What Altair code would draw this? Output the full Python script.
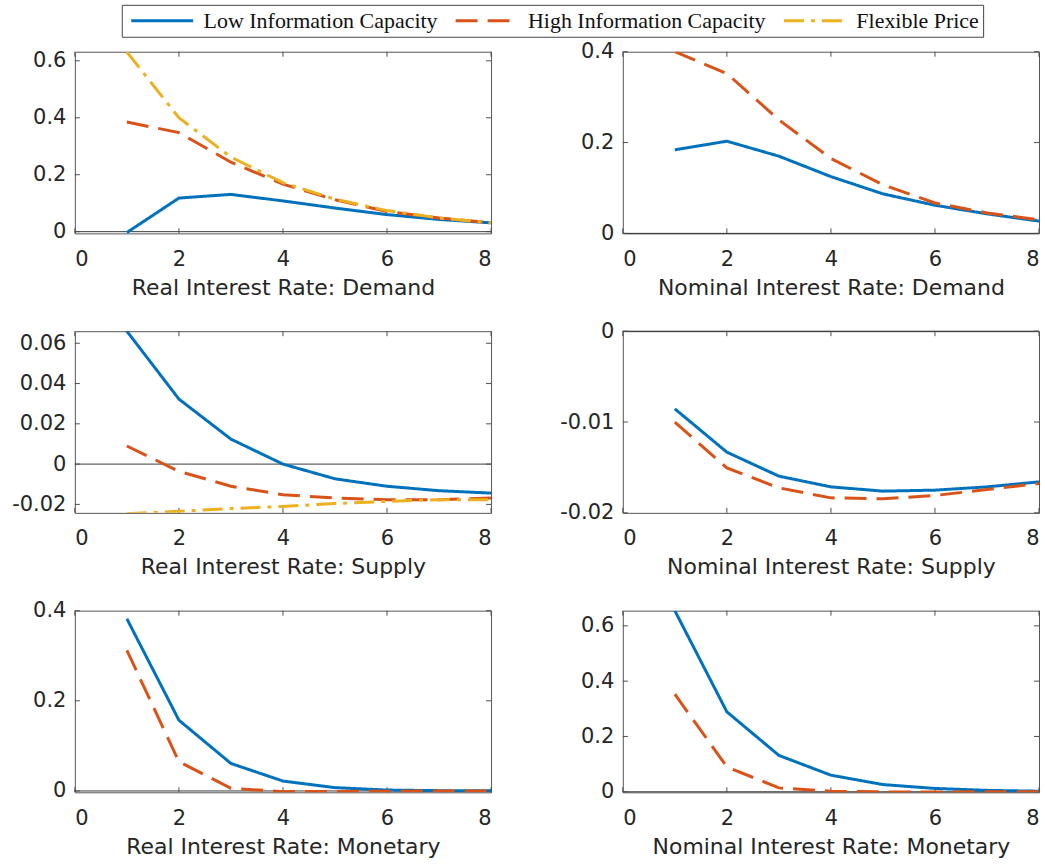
import altair as alt
import pandas as pd

periods = [1, 2, 3, 4, 5, 6, 7, 8]
series_names = ["Low Information Capacity", "High Information Capacity", "Flexible Price"]
series_colors = ["#0072BD", "#D95319", "#EDB120"]
series_dashes = [[1, 0], [22, 10], [20, 7, 4, 7]]
x_ticks = [0, 2, 4, 6, 8]

# Real interest rate: demand
real_demand_low = [-0.003, 0.118, 0.131, 0.108, 0.083, 0.060, 0.043, 0.031]
real_demand_high = [0.385, 0.348, 0.244, 0.167, 0.112, 0.071, 0.048, 0.031]
real_demand_flex = [0.631, 0.400, 0.262, 0.172, 0.114, 0.074, 0.048, 0.031]
# Nominal interest rate: demand
nom_demand_low = [0.184, 0.203, 0.170, 0.125, 0.087, 0.062, 0.043, 0.027]
nom_demand_high = [0.400, 0.352, 0.250, 0.165, 0.107, 0.067, 0.045, 0.030]
# Real interest rate: supply
real_supply_low = [0.066, 0.0323, 0.0124, 0.0, -0.0073, -0.011, -0.0132, -0.0144]
real_supply_high = [0.009, -0.0036, -0.011, -0.0152, -0.0168, -0.0177, -0.0177, -0.0168]
real_supply_flex = [-0.0247, -0.0234, -0.0221, -0.021, -0.0196, -0.0185, -0.0177, -0.0177]
# Nominal interest rate: supply
nom_supply_low = [-0.00855, -0.01332, -0.01596, -0.01714, -0.01761, -0.0175, -0.01714, -0.01659]
nom_supply_high = [-0.01002, -0.01505, -0.01725, -0.01835, -0.01846, -0.01809, -0.01743, -0.01677]
# Real interest rate: monetary
real_mon_low = [0.382, 0.157, 0.061, 0.022, 0.0074, 0.002, 0.0007, 0.0002]
real_mon_high = [0.312, 0.065, 0.006, -0.0015, -0.0012, -0.0005, -0.0002, 0.0]
# Nominal interest rate: monetary
nom_mon_low = [0.655, 0.289, 0.1315, 0.060, 0.026, 0.012, 0.005, 0.002]
nom_mon_high = [0.353, 0.090, 0.014, 0.002, -0.0005, -0.0005, -0.0003, 0.0]

W, H = 417, 182
TICK_COLOR = "#4d4d4d"

legend = alt.Legend(
    title=None, orient="none", legendX=47, legendY=-47, direction="horizontal",
    symbolType="stroke", symbolSize=3844, symbolStrokeWidth=3, clipHeight=24,
    symbolOffset=4,
    labelFont="Liberation Serif", labelFontSize=22, labelColor="#111111",
    labelOffset=9, columnPadding=12, padding=4, strokeColor="#444444",
    fillColor="white", labelLimit=500,
)


def panel(title, ydomain, yticks, series):
    rows = []
    for name, vals in series:
        for p, v in zip(periods, vals):
            rows.append({"t": p, "v": v, "s": name})
    df = pd.DataFrame(rows)

    x_enc = alt.X(
        "t:Q",
        scale=alt.Scale(domain=[0, 8], nice=False, zero=False),
        axis=alt.Axis(values=x_ticks, title=title, grid=False, domain=False,
                      ticks=False, tickSize=0, labelPadding=15, titlePadding=8),
    )
    y_enc = alt.Y(
        "v:Q",
        scale=alt.Scale(domain=ydomain, nice=False, zero=False),
        axis=alt.Axis(values=yticks, title=None, grid=False, domain=False,
                      ticks=False, tickSize=0, labelPadding=9,
                      labelExpr="datum.value < 0 ? '-' + format(-datum.value, '~g') : format(datum.value, '~g')"),
    )

    zero = alt.Chart(pd.DataFrame({"v": [0.0]})).mark_rule(
        color="#262626", strokeWidth=0.9).encode(y=y_enc)
    xt = pd.DataFrame({"t": x_ticks})
    yt = pd.DataFrame({"v": yticks})
    xt_bot = alt.Chart(xt).mark_rule(color=TICK_COLOR, strokeWidth=1).encode(
        x=x_enc, y=alt.value(H), y2=alt.value(H - 5))
    xt_top = alt.Chart(xt).mark_rule(color=TICK_COLOR, strokeWidth=1).encode(
        x=x_enc, y=alt.value(0), y2=alt.value(5))
    yt_left = alt.Chart(yt).mark_rule(color=TICK_COLOR, strokeWidth=1).encode(
        y=y_enc, x=alt.value(0), x2=alt.value(5))
    yt_right = alt.Chart(yt).mark_rule(color=TICK_COLOR, strokeWidth=1).encode(
        y=y_enc, x=alt.value(W - 5), x2=alt.value(W))

    lines = alt.Chart(df).mark_line(strokeWidth=3, clip=True).encode(
        x=x_enc,
        y=y_enc,
        color=alt.Color("s:N", scale=alt.Scale(domain=series_names, range=series_colors),
                        legend=legend),
        strokeDash=alt.StrokeDash("s:N", scale=alt.Scale(domain=series_names, range=series_dashes),
                                  legend=legend),
    )
    return alt.layer(zero, xt_bot, xt_top, yt_left, yt_right, lines).properties(width=W, height=H)


p1 = panel("Real Interest Rate: Demand", [-0.006, 0.632], [0, 0.2, 0.4, 0.6],
           [(series_names[0], real_demand_low), (series_names[1], real_demand_high),
            (series_names[2], real_demand_flex)])
p2 = panel("Nominal Interest Rate: Demand", [0, 0.4], [0, 0.2, 0.4],
           [(series_names[0], nom_demand_low), (series_names[1], nom_demand_high)])
p3 = panel("Real Interest Rate: Supply", [-0.0242, 0.066], [-0.02, 0, 0.02, 0.04, 0.06],
           [(series_names[0], real_supply_low), (series_names[1], real_supply_high),
            (series_names[2], real_supply_flex)])
p4 = panel("Nominal Interest Rate: Supply", [-0.02, 0], [-0.02, -0.01, 0],
           [(series_names[0], nom_supply_low), (series_names[1], nom_supply_high)])
p5 = panel("Real Interest Rate: Monetary", [-0.003, 0.4], [0, 0.2, 0.4],
           [(series_names[0], real_mon_low), (series_names[1], real_mon_high)])
p6 = panel("Nominal Interest Rate: Monetary", [-0.002, 0.655], [0, 0.2, 0.4, 0.6],
           [(series_names[0], nom_mon_low), (series_names[1], nom_mon_high)])

chart = alt.ConcatChart(
    concat=[p1, p2, p3, p4, p5, p6],
    columns=2,
    spacing={"row": 98, "column": 132},
    bounds="flush",
).properties(
    padding={"left": 11, "top": 3, "right": 5, "bottom": 5},
    background="white",
).configure_view(
    stroke="#555555", strokeWidth=1,
).configure_axis(
    labelFont="DejaVu Sans", labelFontSize=21, labelColor="#262626",
    titleFont="DejaVu Sans", titleFontSize=22, titleColor="#262626",
    titleFontWeight="normal",
)

chart.save("out.html", embed_options={"renderer": "svg", "actions": False})
